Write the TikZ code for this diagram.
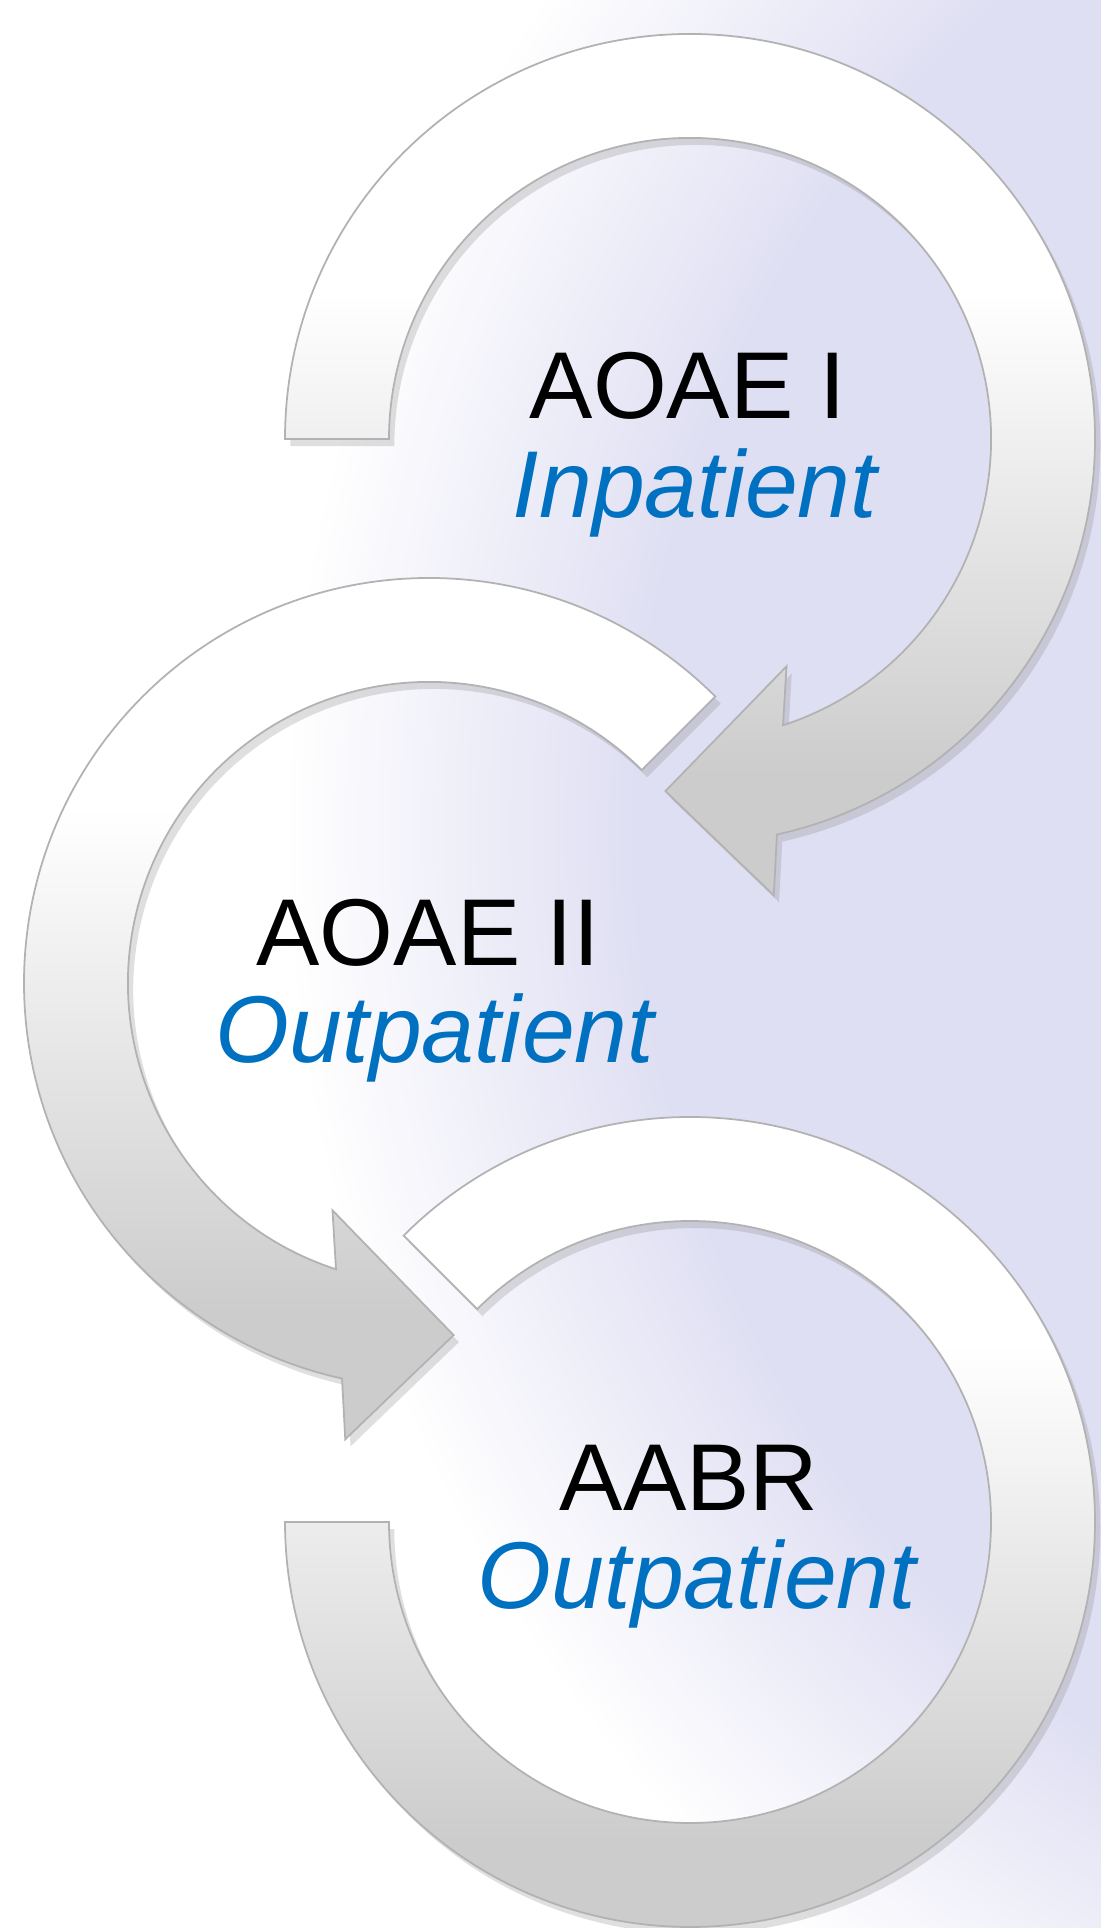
\documentclass[tikz,border=0pt]{standalone}
\usepackage{fontspec}
\setmainfont{Liberation Sans}
\usetikzlibrary{shadows}

\definecolor{lav}{RGB}{223,223,243}
\definecolor{ringgrey}{RGB}{204,204,204}
\definecolor{ptblue}{RGB}{0,112,192}

\pgfdeclareradialshading{bgshade}{\pgfpoint{0bp}{0bp}}{color(0bp)=(lav); color(19bp)=(lav); color(25bp)=(white); color(50bp)=(white)}
\pgfdeclareverticalshading{ringshade}{100bp}{color(0bp)=(ringgrey); color(32bp)=(ringgrey); color(60bp)=(white); color(100bp)=(white)}

\begin{document}
\begin{tikzpicture}[x=0.01cm,y=0.01cm,
    ring/.style={shading=ringshade, draw=gray!60, line width=0.5pt,
      drop shadow={shadow xshift=1.5pt, shadow yshift=-2pt, opacity=0.25}},
    lbltitle/.style={anchor=base, font=\fontsize{27}{28}\selectfont, text=black},
    lblsub/.style={anchor=base, font=\fontsize{27}{28}\selectfont\itshape, text=ptblue}]
    \useasboundingbox (0,0) rectangle (1101,1928);

    % background
    \begin{scope}
        \clip (0,0) rectangle (1101,1928);
        \fill[white] (0,0) rectangle (1101,1928);
        \shade[shading=bgshade] (1752,1100) circle (1468);
    \end{scope}

    \coordinate (c1) at (690,1489);
    \coordinate (c2) at (429,945);
    \coordinate (c3) at (690,406);

    % top arrow, clockwise
    \begin{scope}[shift={(c1)}]
        \shadedraw[ring] (180:405) arc[start angle=180, end angle=-77.6, radius=405]
            -- (-79.6:464) -- (-94:353) -- (-67:247) -- (-72:301)
            arc[start angle=-72, end angle=180, radius=301] -- cycle;
    \end{scope}

    % middle arrow, counterclockwise
    \begin{scope}[shift={(c2)}]
        \shadedraw[ring] (45:405) arc[start angle=45, end angle=257.6, radius=405]
            -- (259.6:464) -- (274:353) -- (247:247) -- (252:301)
            arc[start angle=252, end angle=45, radius=301] -- cycle;
    \end{scope}

    % bottom ring, no head
    \begin{scope}[shift={(c3)}]
        \shadedraw[ring] (135:405) arc[start angle=135, end angle=-180, radius=405]
            -- (-180:301) arc[start angle=-180, end angle=135, radius=301] -- cycle;
    \end{scope}

    \node[lbltitle] (aoae1) at (688,1509) {AOAE I};
    \node[lblsub] (inpat) at (695,1410) {Inpatient};

    \node[lbltitle] (aoae2) at (428,962) {AOAE II};
    \node[lblsub] (outpat2) at (435,865) {Outpatient};

    \node[lbltitle] (aabr) at (689,417) {AABR};
    \node[lblsub] (outpat3) at (697,319) {Outpatient};
\end{tikzpicture}
\end{document}
